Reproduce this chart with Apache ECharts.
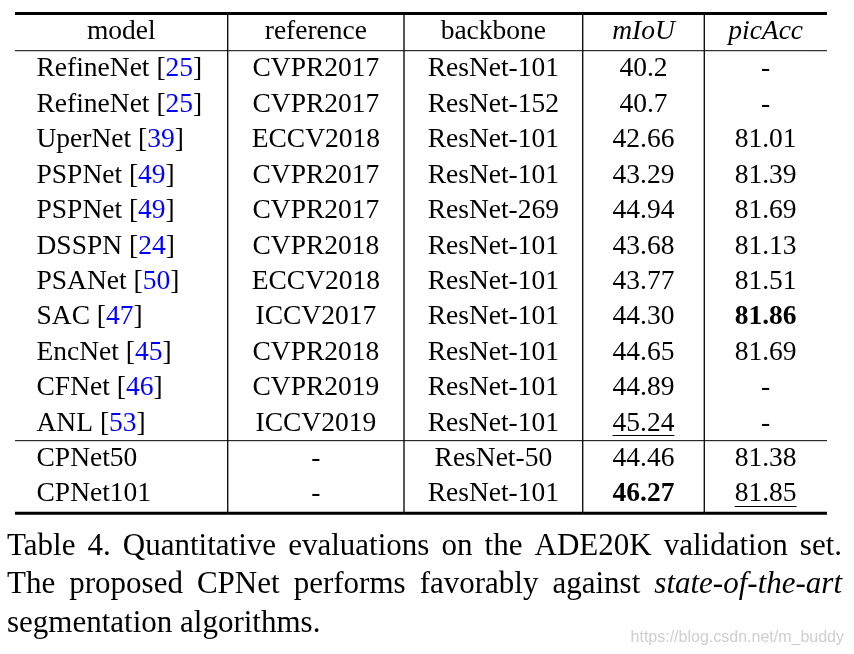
<!DOCTYPE html>
<html><head><meta charset="utf-8">
<script src="https://cdn.jsdelivr.net/npm/echarts@6/dist/echarts.min.js"></script>
<style>html,body{margin:0;padding:0;background:#fff}#c{width:854px;height:654px}</style>
</head><body><div id="c"></div>
<script>
// ---------- data ----------
const columns = ['model', 'reference', 'backbone', 'mIoU', 'picAcc'];
const models = ['RefineNet','RefineNet','UperNet','PSPNet','PSPNet','DSSPN','PSANet','SAC','EncNet','CFNet','ANL','CPNet50','CPNet101'];
const cites = ['25','25','39','49','49','24','50','47','45','46','53',null,null];
const refs = ['CVPR2017','CVPR2017','ECCV2018','CVPR2017','CVPR2017','CVPR2018','ECCV2018','ICCV2017','CVPR2018','CVPR2019','ICCV2019','-','-'];
const backbones = ['ResNet-101','ResNet-152','ResNet-101','ResNet-101','ResNet-269','ResNet-101','ResNet-101','ResNet-101','ResNet-101','ResNet-101','ResNet-101','ResNet-50','ResNet-101'];
const mIoU = ['40.2','40.7','42.66','43.29','44.94','43.68','43.77','44.30','44.65','44.89','45.24','44.46','46.27'];
const picAcc = ['-','-','81.01','81.39','81.69','81.13','81.51','81.86','81.69','-','-','81.38','81.85'];
const boldCells = [[3, 13], [4, 8]];        // [column, row] (row 0 = header)
const underlineCells = [[3, 11], [4, 13]];
const italicHeaders = ['mIoU', 'picAcc'];
const groupBreakAfterRow = 11;
const captionLines = [
  {words: ['Table', '4.', 'Quantitative', 'evaluations', 'on', 'the', 'ADE20K', 'validation', 'set.'], italic: [], justify: true},
  {words: ['The', 'proposed', 'CPNet', 'performs', 'favorably', 'against', 'state-of-the-art'], italic: ['state-of-the-art'], justify: true},
  {words: ['segmentation', 'algorithms.'], italic: [], justify: false}
];
const watermark = 'https://blog.csdn.net/m_buddy';

// ---------- layout / style ----------
const colEdges = [0, 212.7, 389, 567.7, 689.3, 812];
const modelPad = 21.5;
const headerShift = -0.07;
const TEXT_DY = 2.2;
const FONT = '"Liberation Serif","Times New Roman",serif';
const FS = 27.5;
const CAP_FS = 31;
const CITE = '#0000ff';
const UL = 11.5;
const capLeft = 7, capRight = 842;
const capY = [546.5, 585.3, 624];

const ctx = document.createElement('canvas').getContext('2d');
function measure(text, italic, bold, size, fam) {
  ctx.font = (italic ? 'italic ' : '') + (bold ? 'bold ' : '') + size + 'px ' + fam;
  return ctx.measureText(text).width;
}

// ---------- build cells ----------
const cells = [];
const isIn = (list, c, r) => list.some(p => p[0] === c && p[1] === r);
columns.forEach((h, c) => cells.push({value: [c, 0], text: h, italic: italicHeaders.includes(h)}));
models.forEach((m, i) => {
  const r = i + 1;
  const rowVals = [m, refs[i], backbones[i], mIoU[i], picAcc[i]];
  rowVals.forEach((t, c) => {
    cells.push({
      value: [c, r], text: t,
      cite: c === 0 ? cites[i] : null,
      bold: isIn(boldCells, c, r),
      underline: isIn(underlineCells, c, r)
    });
  });
});
const nRows = models.length;

// rules (in row units)
const rules = [
  {kind: 'h', y: -0.51, w: 3},
  {kind: 'h', y: 0.54, w: 1},
  {kind: 'h', y: groupBreakAfterRow + 0.55, w: 1},
  {kind: 'h', y: nRows + 0.6, w: 3}
];
for (let k = 1; k < colEdges.length - 1; k++) rules.push({kind: 'v', x: colEdges[k], w: 1.4});

function renderCell(params, api) {
  const d = cells[params.dataIndex];
  const c = api.value(0), r = api.value(1);
  const leftAlign = (c === 0 && r > 0);
  const xv = leftAlign ? colEdges[0] + modelPad : (colEdges[c] + colEdges[c + 1]) / 2;
  const yv = r === 0 ? r + headerShift : r;
  const p = api.coord([xv, yv]);
  const py = p[1] + TEXT_DY;
  const base = {fontSize: FS, fontFamily: FONT, fontStyle: d.italic ? 'italic' : 'normal',
    fontWeight: d.bold ? 'bold' : 'normal', fill: '#000'};
  let style;
  if (d.cite) {
    style = Object.assign({x: p[0], y: py, text: '{n|' + d.text + ' [}{c|' + d.cite + '}{n|]}',
      rich: {n: Object.assign({}, base), c: Object.assign({}, base, {fill: CITE})},
      align: 'left', verticalAlign: 'middle'}, base);
  } else {
    style = Object.assign({x: p[0], y: py, text: d.text, align: leftAlign ? 'left' : 'center',
      verticalAlign: 'middle'}, base);
  }
  const children = [{type: 'text', style: style}];
  if (d.underline) {
    const w = measure(d.text, d.italic, d.bold, FS, FONT);
    const yy = Math.round(py + UL) + 0.5;
    children.push({type: 'line', shape: {x1: p[0] - w / 2, y1: yy, x2: p[0] + w / 2, y2: yy},
      style: {stroke: '#000', lineWidth: 1}});
  }
  return {type: 'group', children: children};
}

function renderRule(params, api) {
  const d = rules[params.dataIndex];
  if (d.kind === 'h') {
    const a = api.coord([colEdges[0], d.y]), b = api.coord([colEdges[colEdges.length - 1], d.y]);
    return {type: 'line', shape: {x1: a[0], y1: a[1], x2: b[0], y2: b[1]}, style: {stroke: '#000', lineWidth: d.w}};
  } else {
    const a = api.coord([d.x, rules[0].y]), b = api.coord([d.x, rules[3].y]);
    return {type: 'line', shape: {x1: a[0], y1: a[1], x2: a[0], y2: b[1]}, style: {stroke: '#111', lineWidth: d.w}};
  }
}

// caption graphics (justified)
const graphics = [];
captionLines.forEach((ln, li) => {
  const ws = ln.words.map(w => measure(w, ln.italic.includes(w), false, CAP_FS, FONT));
  const sum = ws.reduce((a, b) => a + b, 0);
  const gap = ln.justify ? (capRight - capLeft - sum) / (ln.words.length - 1) : measure(' ', false, false, CAP_FS, FONT);
  let x = capLeft;
  ln.words.forEach((w, k) => {
    graphics.push({type: 'text', x: x, y: capY[li], style: {text: w, fontSize: CAP_FS, fontFamily: FONT,
      fontStyle: ln.italic.includes(w) ? 'italic' : 'normal', fill: '#000', align: 'left', verticalAlign: 'middle'}});
    x += ws[k] + gap;
  });
});
graphics.push({type: 'text', x: 844, y: 638, style: {text: watermark, fontSize: 16,
  fontFamily: '"Liberation Sans", Arial, sans-serif', fill: '#cfcfcf', align: 'right', verticalAlign: 'middle'}});

const chart = echarts.init(document.getElementById('c'), null, {renderer: 'canvas'});
chart.setOption({
  animation: false,
  backgroundColor: '#fff',
  grid: {left: 15, top: 10.33, width: 812, height: 506.5},
  xAxis: {type: 'value', min: 0, max: 812, show: false},
  yAxis: {type: 'value', inverse: true, min: -0.6, max: 13.7, show: false},
  graphic: graphics,
  series: [
    {type: 'custom', data: rules.map((d, i) => [i, 0]), renderItem: renderRule, clip: false, silent: true,
      encode: {x: -1, y: -1}},
    {type: 'custom', data: cells.map(d => d.value), renderItem: renderCell, clip: false, silent: true,
      encode: {x: 0, y: 1}}
  ]
});
</script></body></html>
